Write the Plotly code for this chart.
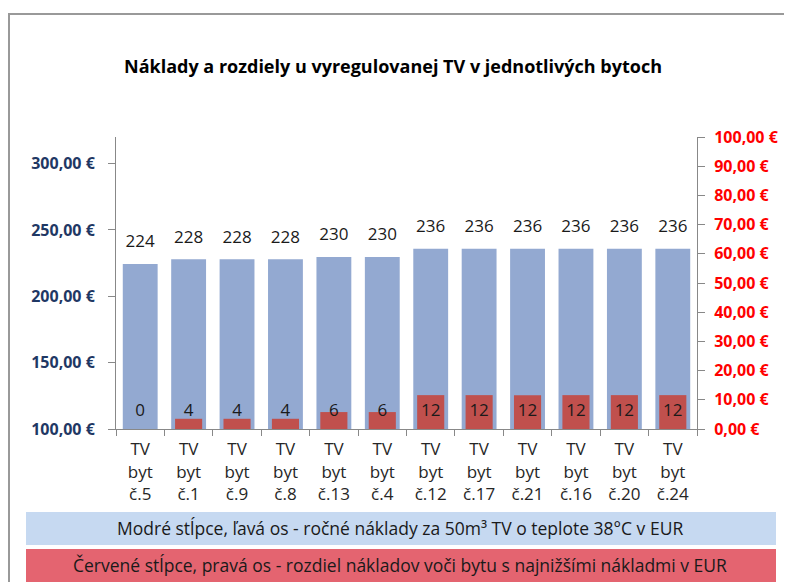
import plotly.graph_objects as go

categories = ["TV<br>byt<br>č.5", "TV<br>byt<br>č.1", "TV<br>byt<br>č.9", "TV<br>byt<br>č.8",
              "TV<br>byt<br>č.13", "TV<br>byt<br>č.4", "TV<br>byt<br>č.12", "TV<br>byt<br>č.17",
              "TV<br>byt<br>č.21", "TV<br>byt<br>č.16", "TV<br>byt<br>č.20", "TV<br>byt<br>č.24"]
costs = [224.4, 227.8, 227.8, 227.8, 229.6, 229.6, 235.8, 235.8, 235.8, 235.8, 235.8, 235.8]
cost_labels = ["224", "228", "228", "228", "230", "230", "236", "236", "236", "236", "236", "236"]
diffs = [0, 3.5, 3.5, 3.5, 5.8, 5.8, 11.6, 11.6, 11.6, 11.6, 11.6, 11.6]
diff_labels = ["0", "4", "4", "4", "6", "6", "12", "12", "12", "12", "12", "12"]
left_ticks = [100, 150, 200, 250, 300]
right_ticks = [0, 10, 20, 30, 40, 50, 60, 70, 80, 90, 100]

title = "Náklady a rozdiely u vyregulovanej TV v jednotlivých bytoch"
legend_blue = "Modré stĺpce, ľavá os - ročné náklady za 50m³ TV o teplote 38°C v EUR"
legend_red = "Červené stĺpce, pravá os - rozdiel nákladov voči bytu s najnižšími nákladmi v EUR"

def eur(v):
    return f"{v:.2f}".replace(".", ",") + " €"

FONT = "Open Sans, sans-serif"
OFF = 8  # page body margin
W, H = 792 - OFF, 582 - OFF
L, T = 116 - OFF, 137 - OFF
R = W - (697 - OFF)
B = H - (429 - OFF)
PW, PH = W - L - R, H - T - B

def px(x):
    return (x - OFF - L) / PW

def py(y):
    return (H - B - (y - OFF)) / PH

fig = go.Figure()
fig.add_trace(go.Bar(
    x=categories, y=costs, base=0, width=0.72,
    marker=dict(color="#93A9D1", line=dict(width=0)),
    yaxis="y", showlegend=False, hoverinfo="skip"))
fig.add_trace(go.Scatter(
    x=categories, y=costs, mode="markers+text", text=cost_labels,
    textposition="top center",
    marker=dict(size=18, color="rgba(0,0,0,0)"),
    textfont=dict(size=17, color="#1a1a1a", family=FONT),
    yaxis="y", showlegend=False, hoverinfo="skip", cliponaxis=False))
fig.add_trace(go.Bar(
    x=categories, y=diffs, width=0.56,
    marker=dict(color="#C0504D", line=dict(width=0)),
    yaxis="y2", showlegend=False, hoverinfo="skip"))
fig.add_trace(go.Scatter(
    x=categories, y=[6] * len(categories), mode="text", text=diff_labels,
    textposition="middle center",
    textfont=dict(size=17, color="#1a1a1a", family=FONT),
    yaxis="y2", showlegend=False, hoverinfo="skip", cliponaxis=False))

fig.update_layout(
    width=W, height=H, margin=dict(l=L, r=R, t=T, b=B, autoexpand=False),
    paper_bgcolor="white", plot_bgcolor="white",
    barmode="overlay",
    font=dict(family=FONT),
    xaxis=dict(range=[-0.5, len(categories) - 0.5],
               showline=True, linecolor="#888888", linewidth=1,
               ticks="outside", tickson="boundaries", ticklen=6, tickcolor="#888888",
               ticklabelstandoff=5,
               tickfont=dict(size=17, color="#262626", family=FONT), showgrid=False),
    yaxis=dict(range=[100, 320], tickvals=left_ticks, ticktext=[eur(v) for v in left_ticks],
               showline=True, linecolor="#888888", linewidth=1,
               ticks="outside", ticklen=7, tickcolor="#888888", showgrid=False, zeroline=False,
               ticklabelstandoff=10,
               tickfont=dict(size=16, color="#1F3864", family=FONT, weight="bold")),
    yaxis2=dict(range=[0, 100], overlaying="y", side="right", tickvals=right_ticks,
                ticktext=[eur(v) for v in right_ticks],
                showline=True, linecolor="#888888", linewidth=1,
                ticks="outside", ticklen=7, tickcolor="#888888", showgrid=False, zeroline=False,
                ticklabelstandoff=6,
                tickfont=dict(size=16, color="#FF0000", family=FONT, weight="bold")),
)

shapes = [
    dict(type="rect", xref="paper", yref="paper", x0=px(9), x1=px(786), y0=py(600), y1=py(14),
         line=dict(color="#999999", width=2), fillcolor="rgba(0,0,0,0)", layer="below"),
    dict(type="rect", xref="paper", yref="paper", x0=px(26), x1=px(776), y0=py(545), y1=py(512),
         line=dict(width=0), fillcolor="#C6D9F1"),
    dict(type="rect", xref="paper", yref="paper", x0=px(26), x1=px(776), y0=py(600), y1=py(549),
         line=dict(width=0), fillcolor="#E46470"),
]
fig.update_layout(shapes=shapes)

annotations = [
    dict(text=title, xref="paper", yref="paper", x=px(393), y=py(66), showarrow=False,
         xanchor="center", yanchor="middle",
         font=dict(size=18, color="#000000", family=FONT, weight="bold")),
    dict(text=legend_blue, xref="paper", yref="paper", x=px(400), y=py(528), showarrow=False,
         xanchor="center", yanchor="middle", font=dict(size=17.5, color="#1a1a1a", family=FONT)),
    dict(text=legend_red, xref="paper", yref="paper", x=px(400), y=py(565), showarrow=False,
         xanchor="center", yanchor="middle", font=dict(size=17.5, color="#1a1a1a", family=FONT)),
]
fig.update_layout(annotations=annotations)

fig.write_html("out.html")
